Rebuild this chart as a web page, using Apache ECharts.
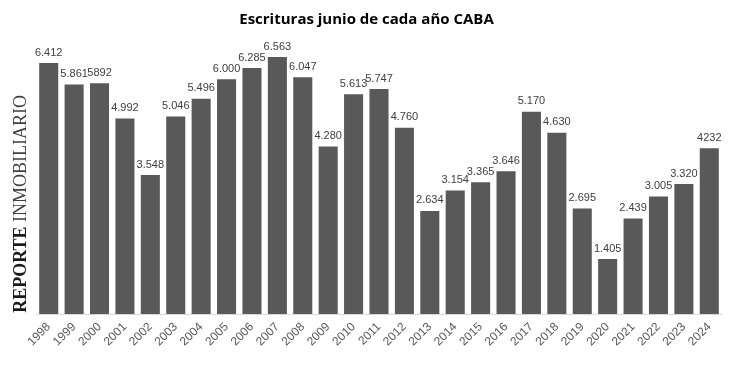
<!DOCTYPE html>
<html>
<head>
<meta charset="utf-8">
<script src="https://cdn.jsdelivr.net/npm/echarts@6/dist/echarts.min.js"></script>
<style>
html,body{margin:0;padding:0;background:#fff;}
#chart{width:733px;height:367px;}
</style>
</head>
<body>
<div id="chart"></div>
<script>
var years = ['1998','1999','2000','2001','2002','2003','2004','2005','2006','2007','2008','2009','2010','2011','2012','2013','2014','2015','2016','2017','2018','2019','2020','2021','2022','2023','2024'];
var escrituras = [6412,5861,5892,4992,3548,5046,5496,6000,6285,6563,6047,4280,5613,5747,4760,2634,3154,3365,3646,5170,4630,2695,1405,2439,3005,3320,4232];
var labelTexts = ['6.412','5.861','5892','4.992','3.548','5.046','5.496','6.000','6.285','6.563','6.047','4.280','5.613','5.747','4.760','2.634','3.154','3.365','3.646','5.170','4.630','2.695','1.405','2.439','3.005','3.320','4232'];

var chart = echarts.init(document.getElementById('chart'), null, {renderer:'canvas'});
chart.setOption({
  animation: false,
  backgroundColor: '#ffffff',
  title: {
    text: 'Escrituras junio de cada año CABA',
    left: 'center',
    top: 7,
    textStyle: {fontFamily: 'Open Sans', fontWeight: 'bold', fontSize: 15, color: '#000000'}
  },
  grid: {left: 36, right: 11, top: 40, bottom: 53, containLabel: false},
  xAxis: {
    type: 'category',
    data: years,
    axisLine: {show: true, lineStyle: {color: '#d9d9d9', width: 1}},
    axisTick: {show: false},
    axisLabel: {rotate: 45, color: '#595959', fontFamily: 'Liberation Sans', fontSize: 12, margin: 11, interval: 0}
  },
  yAxis: {
    type: 'value',
    min: 0,
    max: 7000,
    show: false,
    splitLine: {show: false}
  },
  graphic: [{
    type: 'text',
    left: 12,
    top: 95,
    rotation: Math.PI / 2,
    style: {
      text: '{b|REPORTE} {n|INMOBILIARIO}',
      rich: {
        b: {fontFamily: 'Liberation Serif', fontWeight: 'bold', fontSize: 18, fill: '#1a1a1a'},
        n: {fontFamily: 'Liberation Serif', fontWeight: 'normal', fontSize: 18, fill: '#404040'}
      },
      fontFamily: 'Liberation Serif',
      fontSize: 18
    }
  }],
  series: [{
    type: 'bar',
    data: escrituras,
    barCategoryGap: '25%',
    itemStyle: {color: '#595959'},
    label: {
      show: true,
      position: 'top',
      distance: 5,
      color: '#404040',
      fontFamily: 'Liberation Sans',
      fontSize: 11,
      formatter: function (p) { return labelTexts[p.dataIndex]; }
    }
  }]
});
</script>
</body>
</html>
